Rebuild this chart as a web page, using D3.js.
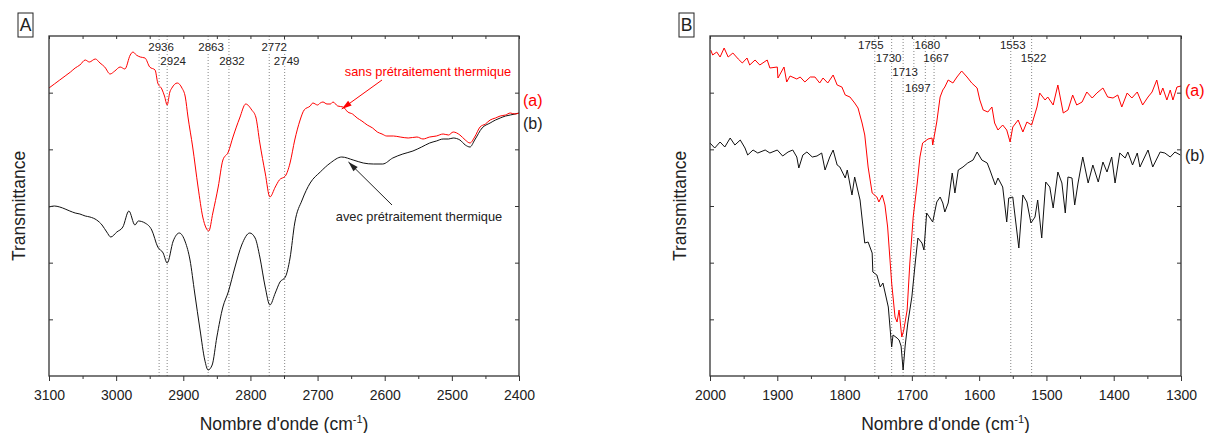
<!DOCTYPE html>
<html><head><meta charset="utf-8">
<script src="https://cdn.jsdelivr.net/npm/d3@7"></script>
<style>
html,body{margin:0;padding:0;background:#fff;}
svg{display:block;font-family:Arial,"Liberation Sans",sans-serif;}
</style></head>
<body><svg id="chart" width="1209" height="433"></svg>
<script>
// ---------- DATA ----------
// Panel A (3100-2400 cm-1), transmittance in arbitrary units
const aSansWn = [3100,3092,3084,3076,3068,3061,3054,3046,3040,3031,3024,3017,3009,3002,2994,2987,2979,2975,2970,2964,2957,2950,2942,2938,2932,2928,2924,2920,2917,2909,2902,2897,2893,2886,2878,2871,2866,2862,2856,2848,2841,2833,2826,2816,2807,2798,2792,2786,2778,2771,2763,2757,2748,2741,2734,2726,2720,2711,2707,2700,2696,2692,2686,2681,2677,2670,2662,2655,2648,2641,2634,2626,2618,2611,2604,2597,2587,2577,2565,2552,2543,2533,2523,2513,2505,2498,2488,2480,2473,2466,2458,2450,2443,2435,2428,2420,2413,2406,2400];
const aSansT  = [288,292,296,300,304,308,311,316,314,317,313,309,302,305,309,307,321,324,321,319,318,309,306,293,287,280,271,284,288,293,288,279,259,229,189,159,148,145,163,189,216,224,239,258,272,266,259,233,203,179,189,196,200,213,236,256,266,270,273,271,273,274,272,272,274,270,269,264,262,258,255,251,248,244,242,240,240,239,238,239,237,239,240,242,241,244,241,236,233,239,249,252,256,258,260,261,263,262,263];
const aAvecWn = [3100,3092,3084,3076,3069,3061,3054,3046,3039,3029,3021,3014,3008,2999,2990,2981,2972,2967,2957,2947,2938,2930,2924,2915,2906,2897,2890,2883,2875,2868,2863,2857,2850,2841,2833,2823,2813,2801,2793,2786,2778,2771,2763,2756,2748,2741,2734,2723,2711,2696,2681,2664,2647,2632,2617,2603,2588,2573,2558,2545,2533,2523,2513,2505,2498,2488,2480,2473,2466,2455,2443,2435,2428,2420,2413,2406,2400];
const aAvecT  = [169,170,169,167,165,163,162,160,159,156,151,144,139,144,149,165,151,155,153,146,129,123,113,135,143,134,116,83,46,16,6,11,39,69,84,109,131,143,138,119,89,71,83,94,99,118,153,176,193,204,213,219,216,213,212,212,218,222,225,229,233,235,237,237,238,236,231,229,236,248,253,256,258,260,261,262,263];
const aPeaks = [2936,2924,2863,2832,2772,2749];
const aPeakRow = [0,1,0,1,0,1];

// Panel B (2000-1300 cm-1)
const bSansWn = [1999,1996,1990,1985,1979,1973,1966,1958,1952,1945,1941,1933,1926,1915,1911,1900,1899,1890,1886,1881,1871,1866,1859,1851,1844,1837,1832,1825,1817,1811,1804,1799,1792,1785,1780,1774,1770,1765,1759,1752,1749,1744,1740,1736,1730,1725,1722,1719,1715,1712,1707,1703,1698,1692,1688,1684,1676,1670,1669,1663,1658,1654,1651,1646,1639,1633,1626,1618,1611,1603,1599,1594,1587,1581,1577,1572,1565,1559,1554,1550,1542,1535,1529,1522,1514,1510,1502,1498,1490,1483,1475,1468,1461,1455,1447,1440,1432,1425,1416,1409,1401,1394,1388,1380,1373,1365,1357,1349,1343,1336,1331,1327,1321,1316,1312,1306,1300];
const bSansT  = [326,321,324,319,328,319,323,317,313,318,311,316,311,316,308,309,298,309,294,300,297,299,294,299,299,293,298,293,301,291,289,281,279,273,268,253,241,209,183,179,174,181,171,149,93,59,54,66,39,46,66,113,159,193,219,233,237,238,231,254,279,286,289,296,293,299,305,299,293,288,276,266,264,269,253,246,251,246,234,249,256,244,254,251,269,283,276,279,271,291,263,266,281,271,274,284,278,283,288,279,278,281,269,283,278,284,271,279,284,296,281,288,276,286,276,289,290];
const bAvecWn = [2000,1993,1985,1978,1970,1963,1955,1948,1944,1936,1929,1918,1911,1900,1892,1884,1877,1871,1868,1862,1856,1848,1841,1834,1829,1822,1817,1811,1807,1799,1796,1789,1785,1777,1770,1765,1759,1758,1752,1747,1743,1735,1730,1728,1722,1719,1716,1713,1710,1706,1700,1695,1691,1685,1682,1678,1673,1669,1663,1658,1654,1651,1646,1640,1636,1631,1624,1617,1609,1603,1596,1588,1584,1576,1572,1565,1559,1556,1550,1541,1535,1529,1523,1517,1513,1507,1501,1495,1490,1483,1477,1472,1468,1462,1458,1453,1446,1438,1431,1423,1416,1410,1403,1398,1391,1383,1379,1372,1365,1361,1354,1349,1342,1331,1324,1316,1309,1301];
const bAvecT  = [233,228,234,229,238,231,236,228,221,226,223,226,223,226,220,224,226,219,208,221,224,219,220,223,206,219,226,211,209,198,206,181,199,176,133,134,123,104,101,89,93,69,29,41,38,36,30,6,30,53,79,113,138,133,126,163,158,154,174,179,173,164,173,203,183,206,209,213,216,224,216,213,206,191,198,189,154,178,179,128,181,174,153,159,176,138,194,189,168,204,193,163,199,198,171,193,219,193,211,194,214,204,219,193,223,218,224,211,223,209,219,226,209,224,223,219,224,221];
const bPeaks = [1755,1730,1713,1697,1680,1667,1553,1522];
const bPeakRow = [0,1,2,3,0,1,0,1];

const xTicksA = [3100,3000,2900,2800,2700,2600,2500,2400];
const xTicksB = [2000,1900,1800,1700,1600,1500,1400,1300];
const xTitle = "Nombre d'onde (cm";
const yTitle = "Transmittance";

// ---------- DRAW ----------
const svg = d3.select("#chart");
const RED = "#ff0000", BLK = "#111", AX = "#333";
const plotTop = 36, plotBottom = 376;

function panel(o){
  const x = d3.scaleLinear().domain(o.domain).range([o.left, o.right]);
  const y = d3.scaleLinear().domain([0,340]).range([plotBottom, plotTop]);
  const g = svg.append("g");
  const w = o.right - o.left;
  const majors = o.ticks;
  const minors = d3.range(0, majors.length-1).map(i => (majors[i]+majors[i+1])/2);
  const yT = d3.range(1,6).map(i => i*340/6);

  g.selectAll("line.ref").data(o.peaks).join("line")
    .attr("x1", d => x(d)).attr("x2", d => x(d))
    .attr("y1", plotTop).attr("y2", plotBottom)
    .attr("stroke", "#777").attr("stroke-width", 0.9).attr("stroke-dasharray", "1,2");

  const line = d3.line().x(d => x(d[0])).y(d => y(d[1])).curve(o.curve);
  g.append("path").datum(d3.zip(o.bWn, o.bT)).attr("d", line)
    .attr("fill","none").attr("stroke",BLK).attr("stroke-width",1);
  g.append("path").datum(d3.zip(o.aWn, o.aT)).attr("d", line)
    .attr("fill","none").attr("stroke",RED).attr("stroke-width",1);

  g.selectAll("text.pk").data(o.peaks).join("text")
    .attr("x", (d,i) => x(d) + o.pkDx[i])
    .attr("y", (d,i) => o.rowY[o.rows[i]])
    .attr("text-anchor","middle").attr("font-size", 11.5).attr("fill", "#222")
    .attr("stroke","#fff").attr("stroke-width",2.5).attr("paint-order","stroke")
    .text(d => d);

  const bAx = g.append("g").attr("transform",`translate(0,${plotBottom})`)
    .call(d3.axisBottom(x).tickValues(majors).tickSize(5).tickPadding(9).tickFormat(d3.format("d")));
  bAx.selectAll("text").attr("font-size",14).attr("fill","#222").attr("font-family","Arial,'Liberation Sans',sans-serif");
  g.append("g").attr("transform",`translate(0,${plotBottom})`)
    .call(d3.axisBottom(x).tickValues(minors).tickSize(3).tickFormat(""));
  g.append("g").attr("transform",`translate(0,${plotTop})`)
    .call(d3.axisTop(x).tickValues(majors.concat(minors)).tickSize(-3).tickFormat(""));
  g.append("g").attr("transform",`translate(${o.left},0)`)
    .call(d3.axisLeft(y).tickValues(yT).tickSize(-4).tickFormat(""));
  g.append("g").attr("transform",`translate(${o.right},0)`)
    .call(d3.axisRight(y).tickValues(yT).tickSize(-4).tickFormat(""));
  g.selectAll(".domain").remove();
  g.selectAll(".tick line").attr("stroke",AX).attr("stroke-width",1);
  g.append("rect").attr("x",o.left).attr("y",plotTop).attr("width",w).attr("height",plotBottom-plotTop)
    .attr("fill","none").attr("stroke",AX).attr("stroke-width",1.3);

  const t = g.append("text").attr("x",(o.left+o.right)/2).attr("y",430)
    .attr("text-anchor","middle").attr("font-size",17.5).attr("fill","#222");
  t.append("tspan").text(xTitle);
  t.append("tspan").attr("font-size",11).attr("dy",-7).text("-1");
  t.append("tspan").attr("dy",7).text(")");
  g.append("text").attr("transform",`translate(${o.left-24},${(plotTop+plotBottom)/2}) rotate(-90)`)
    .attr("text-anchor","middle").attr("font-size",17.5).attr("fill","#222").text(yTitle);

  g.append("rect").attr("x",o.left-31).attr("y",13).attr("width",15).attr("height",24)
    .attr("fill","none").attr("stroke","#222").attr("stroke-width",1);
  g.append("text").attr("x",o.left-23.5).attr("y",31).attr("text-anchor","middle")
    .attr("font-size",17.5).attr("fill","#222").text(o.letter);

  g.append("text").attr("x",o.right+4).attr("y",y(o.aT[o.aT.length-1])+o.labA).attr("font-size",16).attr("fill",RED).text("(a)");
  g.append("text").attr("x",o.right+4).attr("y",y(o.bT[o.bT.length-1])+o.labB).attr("font-size",16).attr("fill","#222").text("(b)");
  return {g,x,y};
}

const A = panel({left:49,right:519,domain:[3100,2400],ticks:xTicksA,
  aWn:aSansWn,aT:aSansT,bWn:aAvecWn,bT:aAvecT,peaks:aPeaks,rows:aPeakRow,
  pkDx:[2,6,3,3,5,2],rowY:[51,65],curve:d3.curveMonotoneX,letter:"A",labA:-7,labB:16});
const B = panel({left:710,right:1181,domain:[2000,1300],ticks:xTicksB,
  aWn:bSansWn,aT:bSansT,bWn:bAvecWn,bT:bAvecT,peaks:bPeaks,rows:bPeakRow,
  pkDx:[-4,-3,2,4,2,2,2,2],rowY:[49,62,76,92],curve:d3.curveLinear,letter:"B",labA:10,labB:6});

function arrow(g, x1,y1,x2,y2,color){
  g.append("line").attr("x1",x1).attr("y1",y1).attr("x2",x2).attr("y2",y2)
    .attr("stroke",color).attr("stroke-width",1);
  const ang = Math.atan2(y2-y1,x2-x1), L=10, W=3;
  const bx = x2 - L*Math.cos(ang), by = y2 - L*Math.sin(ang);
  const px = -Math.sin(ang)*W, py = Math.cos(ang)*W;
  g.append("path").attr("d",`M${x2},${y2}L${bx+px},${by+py}L${bx-px},${by-py}Z`).attr("fill",color);
}
const xa = A.x, ya = A.y;
A.g.append("text").attr("x",428).attr("y",76).attr("text-anchor","middle").attr("font-size",12.8)
  .attr("fill",RED).text("sans prétraitement thermique");
arrow(A.g, 382, 80, xa(2664), ya(268)+1, RED);
A.g.append("text").attr("x",419).attr("y",221).attr("text-anchor","middle").attr("font-size",12.8)
  .attr("fill","#222").text("avec prétraitement thermique");
arrow(A.g, 392, 205, xa(2654), ya(216)+2, "#222");
</script></body></html>
